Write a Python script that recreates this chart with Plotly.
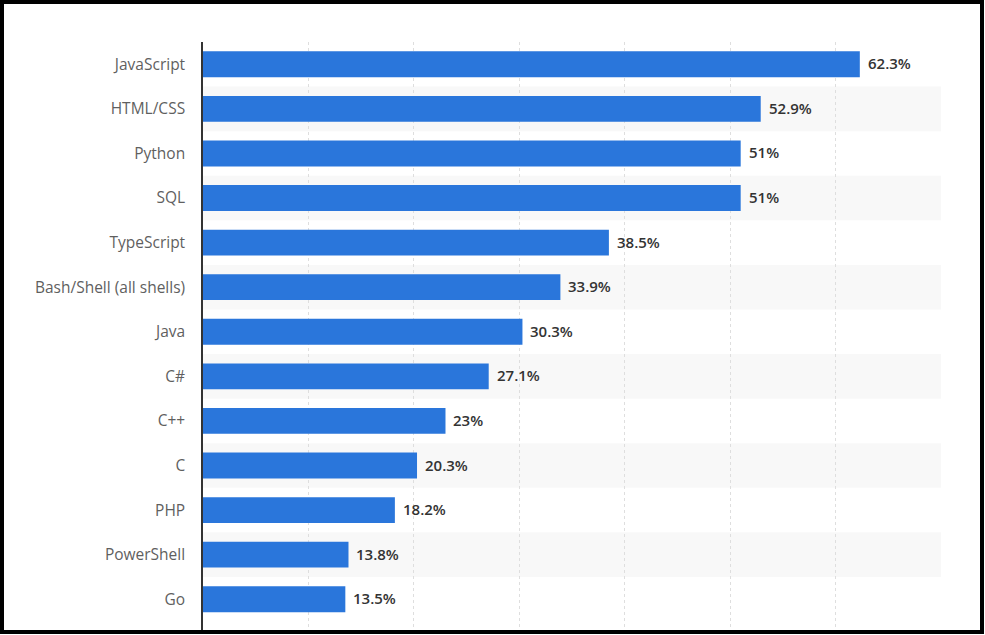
import plotly.graph_objects as go

languages = ["JavaScript", "HTML/CSS", "Python", "SQL", "TypeScript",
             "Bash/Shell (all shells)", "Java", "C#", "C++", "C", "PHP",
             "PowerShell", "Go"]
shares = [62.3, 52.9, 51, 51, 38.5, 33.9, 30.3, 27.1, 23, 20.3, 18.2, 13.8, 13.5]
value_labels = ["62.3%", "52.9%", "51%", "51%", "38.5%", "33.9%", "30.3%",
                "27.1%", "23%", "20.3%", "18.2%", "13.8%", "13.5%"]

W, H = 985, 635
ML, MR, MT, MB = 203, 44, 42, 5
pw, ph = W - ML - MR, H - MT - MB

BAR = "#2a76db"
FONT = "Open Sans, DejaVu Sans, sans-serif"

fig = go.Figure()
fig.add_trace(go.Bar(
    x=shares, y=languages, orientation="h",
    marker=dict(color=BAR, line=dict(width=0)),
    width=0.58, hoverinfo="skip",
))

shapes = []
for i, lang in enumerate(languages):
    if i % 2 == 1:
        shapes.append(dict(type="rect", xref="x", yref="y",
                           x0=0, x1=70, y0=i - 0.5, y1=i + 0.5,
                           fillcolor="#f8f8f8", line=dict(width=0),
                           layer="below"))

def px2x(p):
    return (p - ML) / pw
def py2y(p):
    return 1 - (p - MT) / ph

shapes.append(dict(type="rect", xref="paper", yref="paper",
                   x0=px2x(2), x1=px2x(982), y0=py2y(2), y1=py2y(632),
                   line=dict(color="#000000", width=4), fillcolor="rgba(0,0,0,0)"))

annotations = []
for lang, v, t in zip(languages, shares, value_labels):
    annotations.append(dict(x=v, y=lang, xref="x", yref="y", text=t,
                            showarrow=False, xanchor="left", xshift=6, yshift=1,
                            font=dict(family=FONT, size=15, color="#333333",
                                      weight=600)))

fig.update_layout(
    width=W, height=H,
    margin=dict(l=ML, r=MR, t=MT, b=MB),
    paper_bgcolor="white", plot_bgcolor="white",
    showlegend=False,
    shapes=shapes, annotations=annotations,
    font=dict(family=FONT),
)
fig.update_xaxes(range=[0, 70], dtick=10, showticklabels=False,
                 showgrid=True, gridcolor="#dedede", griddash="dot", gridwidth=1,
                 zeroline=False, showline=False, fixedrange=True)
fig.update_yaxes(type="category", range=[12.69, -0.5],
                 showgrid=False, zeroline=False,
                 showline=True, linecolor="#333333", linewidth=1.5,
                 ticks="", ticklabelstandoff=13,
                 tickfont=dict(family=FONT, size=15.5, color="#5f5f5f"),
                 fixedrange=True)

fig.write_html("out.html", config={"displayModeBar": False},
               post_script="document.body.style.margin='0';")
